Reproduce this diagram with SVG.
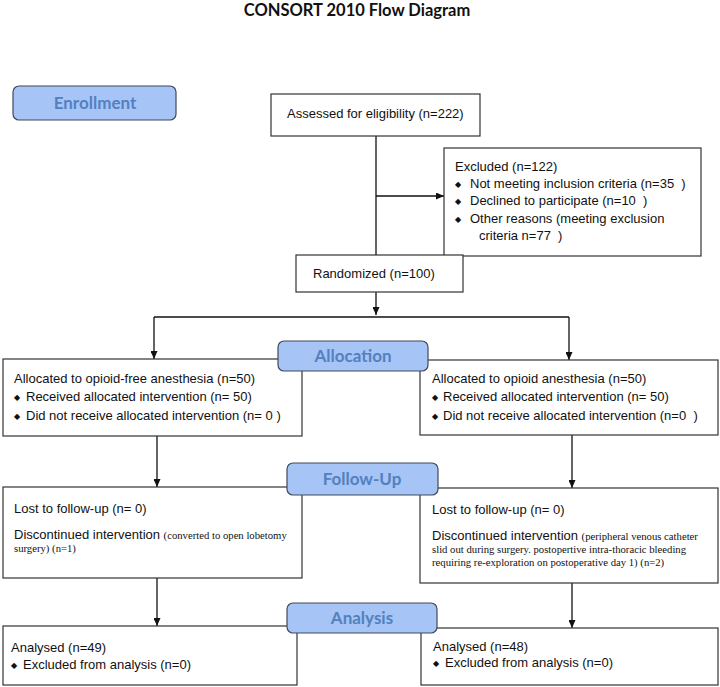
<svg xmlns="http://www.w3.org/2000/svg" width="720" height="687" viewBox="0 0 720 687">
<defs>
<marker id="ah" markerWidth="8" markerHeight="7" refX="8" refY="3.5" orient="auto" markerUnits="userSpaceOnUse">
<path d="M0,0 L8,3.5 L0,7 z" fill="#111"/>
</marker>
<style>
text{white-space:pre}
.box{fill:#fff;stroke:#333;stroke-width:1.2}
.lab{fill:#a6c4f6;stroke:#3f4a5a;stroke-width:1.2}
.labt{font-family:Lato,"Liberation Sans",sans-serif;font-weight:bold;font-size:17px;fill:#5281be;text-anchor:middle}
.t{font-family:"Liberation Sans",Arial,sans-serif;font-size:13px;fill:#111}
.d{font-family:"Liberation Sans",Arial,sans-serif;font-size:13px;fill:#111}
.s{font-family:"Liberation Serif","Times New Roman",serif;font-size:10.7px;fill:#111}
.b{font-family:"DejaVu Sans",sans-serif;font-size:8px;fill:#111}
.c{stroke:#111;stroke-width:1.3;fill:none}
</style>
</defs>
<rect width="720" height="687" fill="#fff"/>
<text x="357" y="16" text-anchor="middle" font-family="Lato,'Liberation Sans',sans-serif" font-weight="bold" font-size="16.5" fill="#111">CONSORT 2010 Flow Diagram</text>

<g id="connectors">
<line class="c" x1="376" y1="136" x2="376" y2="255"/>
<line class="c" x1="376" y1="196" x2="444" y2="196" marker-end="url(#ah)"/>
<line class="c" x1="376" y1="292" x2="376" y2="315" marker-end="url(#ah)"/>
<line class="c" x1="154" y1="317" x2="569" y2="317"/>
<line class="c" x1="154" y1="317" x2="154" y2="359" marker-end="url(#ah)"/>
<line class="c" x1="569" y1="317" x2="569" y2="360" marker-end="url(#ah)"/>
<line class="c" x1="157" y1="436" x2="157" y2="487" marker-end="url(#ah)"/>
<line class="c" x1="572" y1="435" x2="572" y2="488" marker-end="url(#ah)"/>
<line class="c" x1="157" y1="578" x2="157" y2="626" marker-end="url(#ah)"/>
<line class="c" x1="572" y1="583" x2="572" y2="628" marker-end="url(#ah)"/>
</g>

<g id="assessed">
<rect class="box" x="271" y="94" width="209" height="42"/>
<text class="t" x="287" y="118">Assessed for eligibility (n=222)</text>
</g>

<g id="excluded">
<rect class="box" x="444" y="148" width="257" height="108"/>
<text class="t" x="455" y="171">Excluded (n=122)</text>
<text class="b" x="455" y="187">◆</text>
<text class="t" x="470" y="188">Not meeting inclusion criteria (n=35  )</text>
<text class="b" x="455" y="204">◆</text>
<text class="t" x="470" y="205">Declined to participate (n=10  )</text>
<text class="b" x="455" y="222">◆</text>
<text class="t" x="470" y="223">Other reasons (meeting exclusion</text>
<text class="t" x="479" y="240">criteria n=77  )</text>
</g>

<g id="randomized">
<rect class="box" x="296" y="255" width="167" height="37"/>
<text class="t" x="313" y="278">Randomized (n=100)</text>
</g>

<g id="alloc-left">
<rect class="box" x="3" y="359" width="299" height="77"/>
<text class="t" x="14" y="383">Allocated to opioid-free anesthesia (n=50)</text>
<text class="b" x="14" y="400">◆</text>
<text class="t" x="26" y="401">Received allocated intervention (n= 50)</text>
<text class="b" x="14" y="419">◆</text>
<text class="t" x="26" y="420">Did not receive allocated intervention (n= 0 )</text>
</g>

<g id="alloc-right">
<rect class="box" x="420" y="360" width="298" height="75"/>
<text class="t" x="432" y="383">Allocated to opioid anesthesia (n=50)</text>
<text class="b" x="432" y="400">◆</text>
<text class="t" x="443" y="401">Received allocated intervention (n= 50)</text>
<text class="b" x="432" y="419">◆</text>
<text class="t" x="443" y="420">Did not receive allocated intervention (n=0  )</text>
</g>

<g id="follow-left">
<rect class="box" x="3" y="487" width="299" height="91"/>
<text class="t" x="14" y="513">Lost to follow-up (n= 0)</text>
<text x="14" y="539"><tspan class="d">Discontinued intervention </tspan><tspan class="s">(converted to open lobetomy</tspan></text>
<text class="s" x="14" y="552">surgery) (n=1)</text>
</g>

<g id="follow-right">
<rect class="box" x="420" y="488" width="298" height="95"/>
<text class="t" x="432" y="514">Lost to follow-up (n= 0)</text>
<text x="432" y="540"><tspan class="d">Discontinued intervention </tspan><tspan class="s">(peripheral venous catheter</tspan></text>
<text class="s" x="432" y="553">slid out during surgery. postopertive intra-thoracic bleeding</text>
<text class="s" x="432" y="566">requiring re-exploration on postoperative day 1) (n=2)</text>
</g>

<g id="analysis-left">
<rect class="box" x="3" y="626" width="294" height="59"/>
<text class="t" x="11" y="652">Analysed (n=49)</text>
<text class="b" x="11" y="668">◆</text>
<text class="t" x="23" y="669">Excluded from analysis (n=0)</text>
</g>

<g id="analysis-right">
<rect class="box" x="421" y="628" width="297" height="57"/>
<text class="t" x="433" y="651">Analysed (n=48)</text>
<text class="b" x="433" y="666">◆</text>
<text class="t" x="445" y="667">Excluded from analysis (n=0)</text>
</g>

<g id="enrollment">
<rect class="lab" x="13" y="86" width="163" height="34" rx="6"/>
<text class="labt" x="95" y="109">Enrollment</text>
</g>

<g id="allocation">
<rect class="lab" x="278" y="341" width="150" height="30" rx="6"/>
<text class="labt" x="353" y="362">Allocation</text>
</g>

<g id="followup">
<rect class="lab" x="287" y="463" width="151" height="32" rx="6"/>
<text class="labt" x="362" y="485">Follow-Up</text>
</g>

<g id="analysis">
<rect class="lab" x="287" y="603" width="150" height="30" rx="6"/>
<text class="labt" x="362" y="624">Analysis</text>
</g>
</svg>
